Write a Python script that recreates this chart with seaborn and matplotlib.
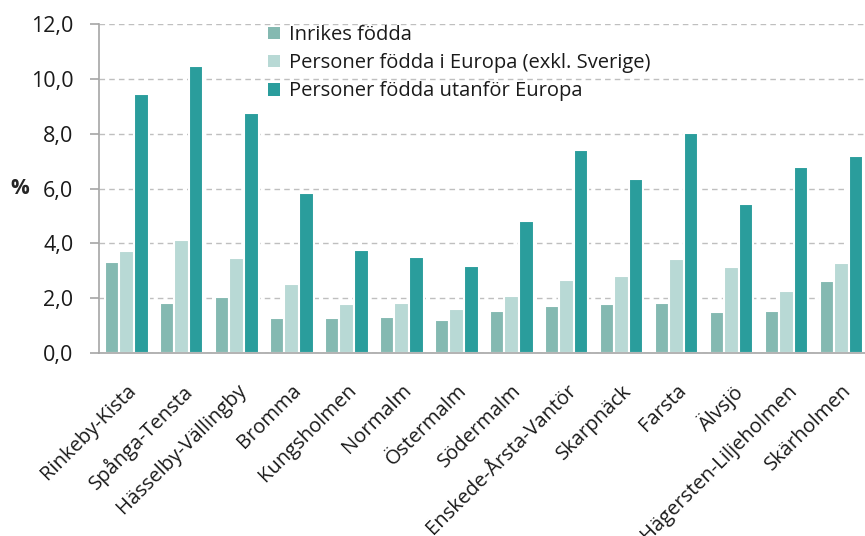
import numpy as np
import pandas as pd
import matplotlib
matplotlib.use("Agg")
import matplotlib.pyplot as plt
import seaborn as sns

# Stadsdelar och andel (%) per grupp
districts = ["Rinkeby-Kista", "Spånga-Tensta", "Hässelby-Vällingby", "Bromma",
             "Kungsholmen", "Normalm", "Östermalm", "Södermalm",
             "Enskede-Årsta-Vantör", "Skarpnäck", "Farsta", "Älvsjö",
             "Hägersten-Liljeholmen", "Skärholmen"]
inrikes = [3.31, 1.81, 2.05, 1.27, 1.28, 1.31, 1.22, 1.54, 1.70, 1.78, 1.84, 1.48, 1.54, 2.64]
europa = [3.71, 4.13, 3.47, 2.53, 1.79, 1.84, 1.62, 2.08, 2.65, 2.81, 3.42, 3.14, 2.27, 3.27]
utanfor = [9.44, 10.47, 8.76, 5.83, 3.77, 3.50, 3.19, 4.80, 7.41, 6.33, 8.04, 5.44, 6.80, 7.19]

series = ["Inrikes födda", "Personer födda i Europa (exkl. Sverige)", "Personer födda utanför Europa"]
colors = ["#84b9b1", "#b8d9d5", "#2a9d9c"]
yticks = [0, 2, 4, 6, 8, 10, 12]

df = pd.DataFrame({"district": districts * 3,
                   "group": [series[0]] * 14 + [series[1]] * 14 + [series[2]] * 14,
                   "value": inrikes + europa + utanfor})

sns.set_style("white")
plt.rcParams["font.family"] = ["Open Sans", "DejaVu Sans"]
plt.rcParams["text.color"] = "#1a1a1a"
plt.rcParams["xtick.color"] = "#1a1a1a"
plt.rcParams["ytick.color"] = "#1a1a1a"

fig = plt.figure(figsize=(8.65, 5.36), dpi=100)
ax = fig.add_axes([99 / 865, 1 - 353 / 536, 770 / 865, 329 / 536])

sns.barplot(data=df, x="district", y="value", hue="group", palette=colors,
            saturation=1, width=0.8, edgecolor="white", linewidth=1.5, ax=ax)

ax.set_xlim(-0.5, len(districts) - 0.5)
ax.set_ylim(0, 12)
ax.set_yticks(yticks)
ax.set_yticklabels([f"{v:.1f}".replace(".", ",") for v in yticks], fontsize=15.5)
ax.yaxis.grid(True, linestyle=(0, (4, 3)), color="#bfbfbf", linewidth=1)
ax.set_axisbelow(True)

ax.set_xticks(range(len(districts)))
ax.set_xticklabels(districts, rotation=45, ha="right", rotation_mode="anchor", fontsize=14.5)
ax.set_xticks(np.arange(-0.5, len(districts), 1), minor=True)
ax.tick_params(axis="x", which="major", length=0, pad=20)
ax.tick_params(axis="x", which="minor", length=5, color="#a6a6a6", width=1.2)
ax.tick_params(axis="y", length=6.5, color="#a6a6a6", width=1.2, left=True, pad=12)

for s in ["top", "right"]:
    ax.spines[s].set_visible(False)
for s in ["left", "bottom"]:
    ax.spines[s].set_color("#a6a6a6")
    ax.spines[s].set_linewidth(1.2)

ax.set_xlabel("")
ax.set_ylabel("%", rotation=0, fontsize=15, fontweight="bold", va="center", ha="center")
ax.yaxis.set_label_coords(-0.1026, 0.5)

leg = ax.legend(loc="upper left", bbox_to_anchor=(0.209, 1.021), frameon=False,
                fontsize=14.5, handlelength=0.6, handleheight=0.6,
                handletextpad=0.45, labelspacing=0.4, borderaxespad=0)
for h in leg.legend_handles:
    h.set_linewidth(0)

fig.savefig("out.png", dpi=100)
